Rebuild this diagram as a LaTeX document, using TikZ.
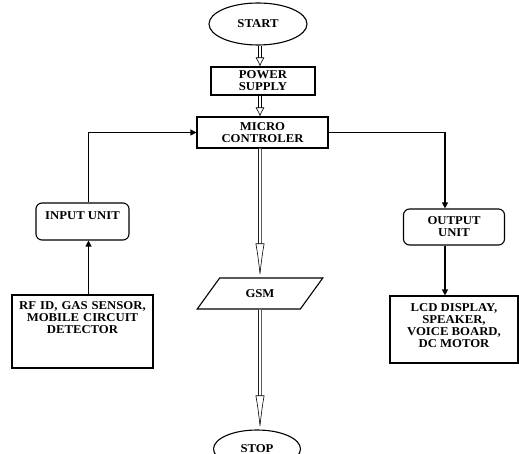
\documentclass[tikz,border=0pt]{standalone}
\usepackage{fontspec}
\setmainfont[FakeStretch=1.06]{Liberation Serif}
\usetikzlibrary{shapes.geometric,arrows.meta}
\begin{document}
\begin{tikzpicture}[x=1pt,y=-1pt,line width=1.1pt,
	txt/.style={font=\bfseries\fontsize{12}{12}\selectfont,align=center},
	blk/.style={txt,draw,rectangle,inner sep=0pt},
	oval/.style={txt,draw,ellipse,inner sep=0pt},
	arr/.style={-{Triangle[length=6pt,width=6pt]}},
	dbl/.style={double,double distance=2.5pt,line width=0.6pt,-{Latex[open,length=#1,width=9pt]}},
	dbl/.default=9pt]
	\useasboundingbox (0,0) rectangle (519,454);
	% main column
	\node (start) at (258,24) [oval,minimum width=98pt,minimum height=42pt] {START};
	\node (power) at (263,81) [blk,minimum width=104pt,minimum height=28pt] {POWER\\SUPPLY};
	\node (mc) at (262.5,132.5) [blk,minimum width=131pt,minimum height=31pt] {MICRO\\CONTROLER};
	\node (gsm) at (260,293.5) [txt,draw,trapezium,trapezium left angle=45,trapezium right angle=135,
		trapezium stretches=true,minimum width=126pt,minimum height=31pt,inner sep=0pt] {GSM};
	\node (stop) at (257,449) [oval,minimum width=87pt,minimum height=38pt] {STOP};
	% side blocks
	\node (input) at (82.5,221.5) [blk,rounded corners=6pt,minimum width=93pt,text height=17pt,text depth=20pt] {INPUT UNIT};
	\node (rfid) at (82.5,331.5) [blk] {\parbox[c][73pt][t]{141pt}{\vspace{7pt}\centering\spaceskip=4pt
		RF ID, GAS SENSOR,\\MOBILE CIRCUIT\\DETECTOR}};
	\node (out) at (454,227) [blk,rounded corners=6pt,minimum width=101pt,minimum height=36pt] {OUTPUT\\UNIT};
	\node (lcd) at (454,329.5) [blk] {\parbox[c][67pt][t]{128pt}{\vspace{8pt}\centering
		LCD DISPLAY,\\SPEAKER,\\VOICE BOARD,\\DC MOTOR}};
	% connectors
	\draw[dbl] (start.south -| gsm) -- (power.north -| gsm);
	\draw[dbl] (power.south -| gsm) -- (mc.north -| gsm);
	\draw[dbl=34pt] (mc.south -| gsm) -- (gsm);
	\draw[dbl=34pt] (gsm) -- (gsm |- stop.north);
	\draw[arr] ([xshift=6pt]rfid.north) -- ([xshift=6pt]input.south);
	\draw[arr] ([xshift=6pt]input.north) |- (mc);
	\draw[arr] (mc) -| ([xshift=-9pt]out.north);
	\draw[arr] ([xshift=-9pt]out.south) -- ([xshift=-9pt]lcd.north);
\end{tikzpicture}
\end{document}
